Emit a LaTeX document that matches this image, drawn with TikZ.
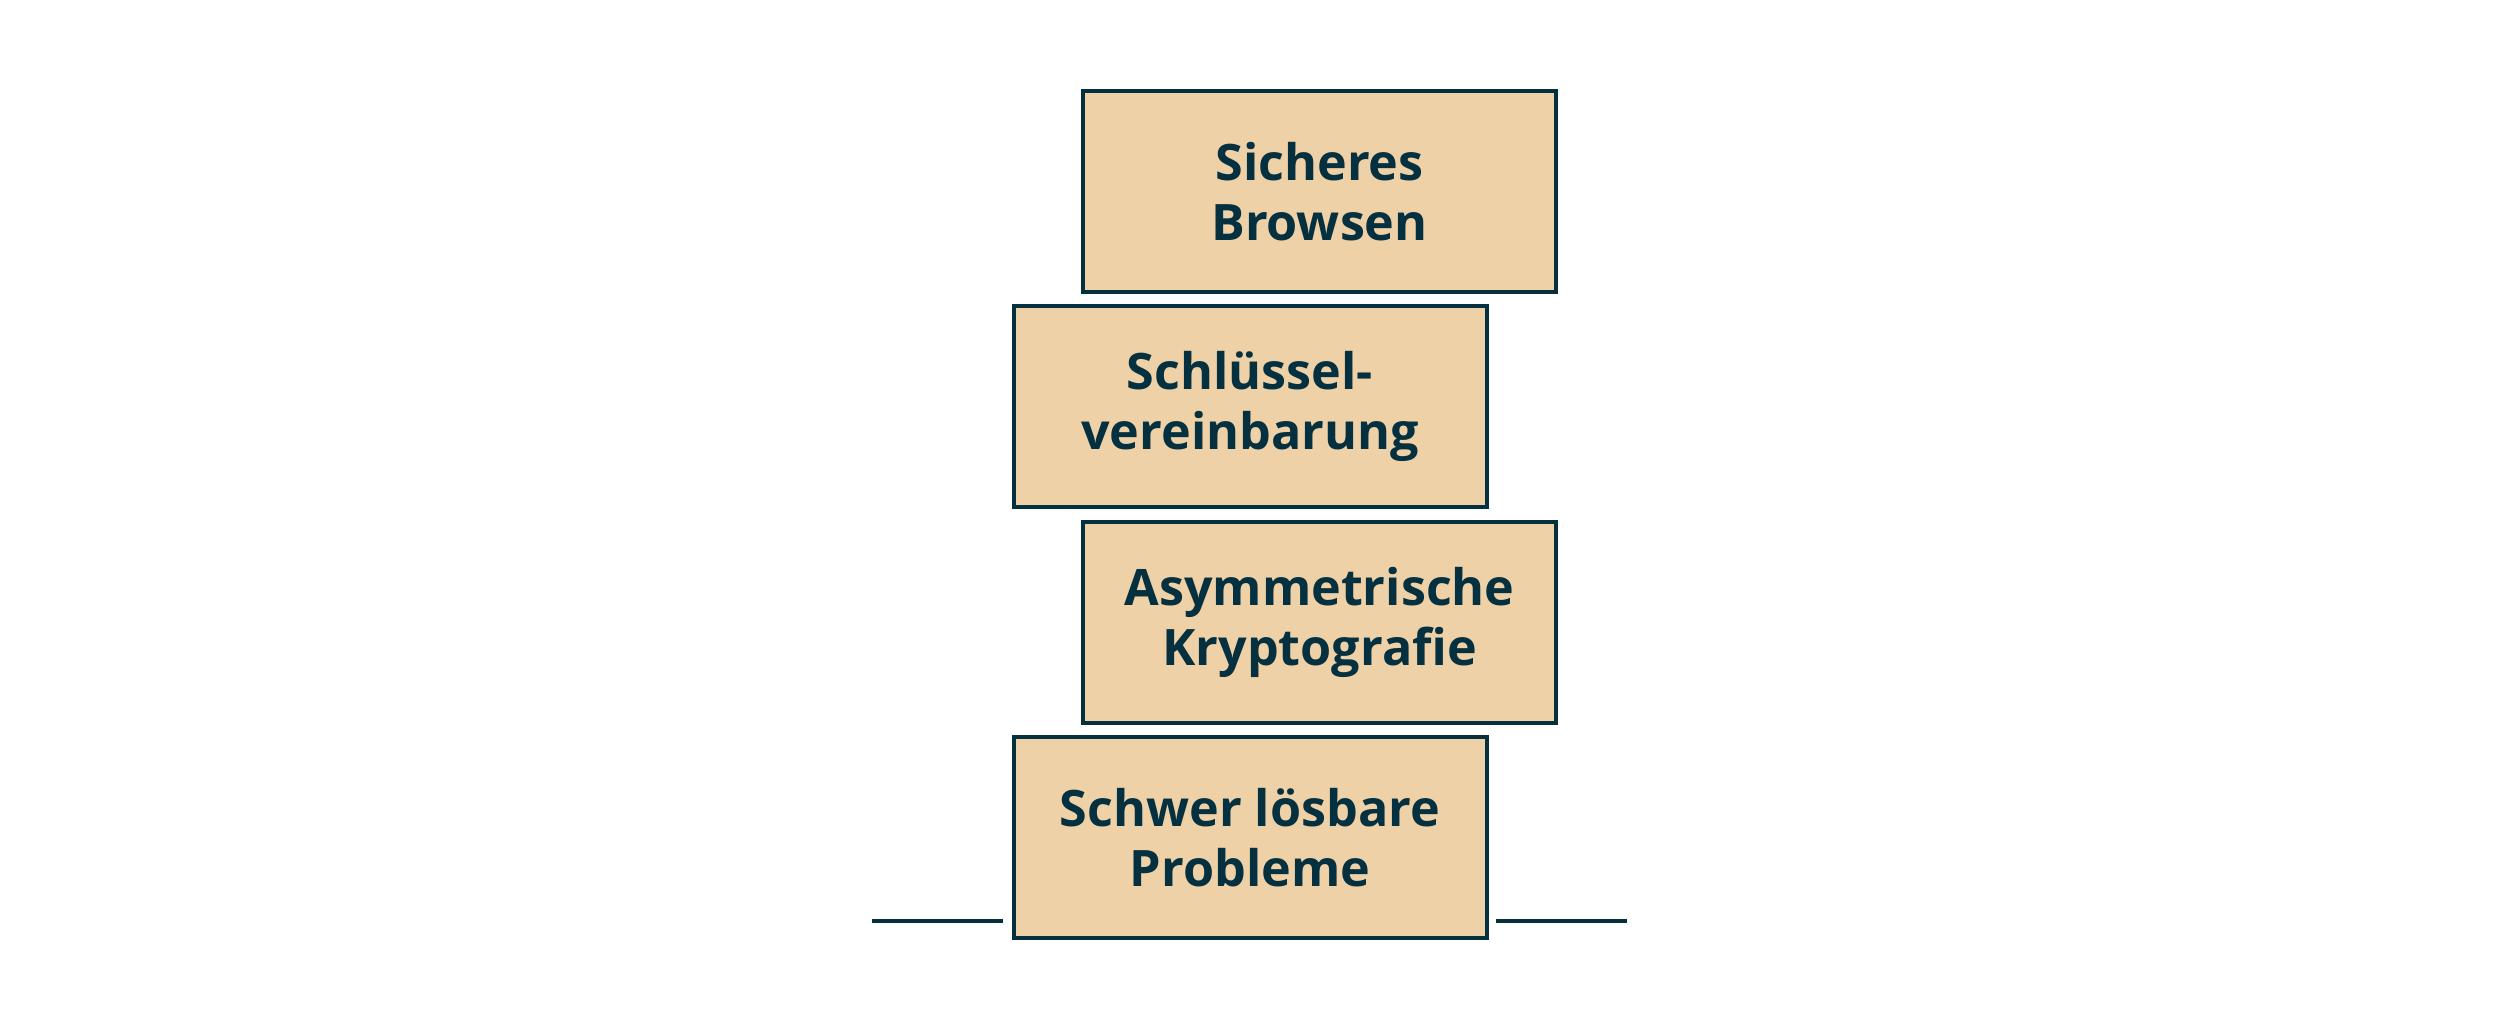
\documentclass[tikz,border=0pt]{standalone}
\usepackage{fontspec}
\setmainfont{Open Sans}
\usepackage{tikz}

\definecolor{ink}{HTML}{05303F}
\definecolor{sand}{HTML}{EFD1A8}

\begin{document}
\begin{tikzpicture}[
		layer/.style={draw=ink, fill=sand, line width=1.14pt, minimum width=4.73cm, minimum height=2.01cm,
			inner sep=0pt, align=center, text=ink, font=\fontsize{14.3}{17.1}\selectfont\bfseries},
		ground/.style={draw=ink, line width=1.14pt}
	]
			\useasboundingbox (0,0) rectangle (25,10.21);

			\node[layer] (browsen) at (13.195,8.295) {Sicheres\\Browsen};
			\node[layer] (schluessel) at (12.50,6.142) {Schlüssel-\\vereinbarung};
			\node[layer] (krypto) at (13.195,3.988) {Asymmetrische\\Kryptografie};
			\node[layer] (probleme) at (12.50,1.835) {Schwer lösbare\\Probleme};

			\coordinate (gl) at (8.72,1.0);
			\coordinate (glend) at (10.03,1.0);
			\coordinate (gr) at (14.96,1.0);
			\coordinate (grend) at (16.27,1.0);
			\draw[ground] (gl) -- (glend);
			\draw[ground] (gr) -- (grend);
		\end{tikzpicture}
\end{document}
